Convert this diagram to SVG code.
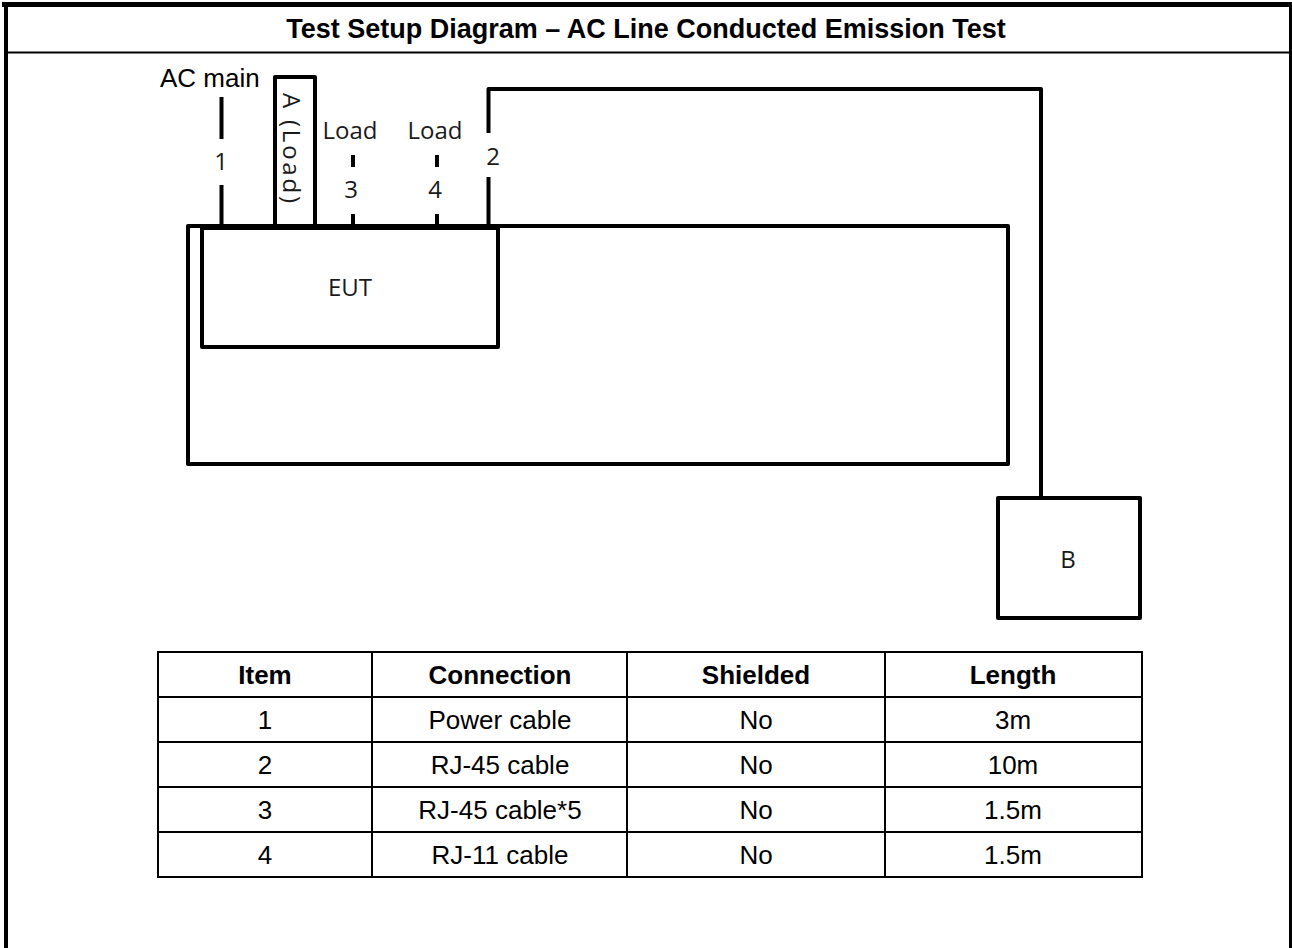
<svg xmlns="http://www.w3.org/2000/svg" width="1292" height="948" viewBox="0 0 1292 948">
<style>
.frame{fill:none;stroke:#000}
.box{fill:none;stroke:#000;stroke-width:4;stroke-linejoin:round}
.wire{fill:none;stroke:#000;stroke-width:4;stroke-linejoin:round}
.lbl{font-family:"Open Sans","DejaVu Sans",sans-serif;font-size:24px;fill:#1a1a1a}
.arial{font-family:"Liberation Sans",Arial,sans-serif;fill:#000}
.title{font-size:27px;font-weight:bold}
.th{font-size:26px;font-weight:bold}
.td{font-size:26px}
.grid{fill:none;stroke:#000;stroke-width:2}
</style>
<rect x="0" y="0" width="1292" height="948" fill="#fff"/>
<g id="frame">
<line class="frame" x1="2" y1="4.5" x2="1292" y2="4.5" stroke-width="5"/>
<line class="frame" x1="6" y1="2" x2="6" y2="948" stroke-width="4"/>
<line class="frame" x1="1290.5" y1="2" x2="1290.5" y2="948" stroke-width="3"/>
<line class="frame" x1="6" y1="52.5" x2="1292" y2="52.5" stroke-width="2"/>
<text class="arial title" x="646" y="38" text-anchor="middle">Test Setup Diagram – AC Line Conducted Emission Test</text>
</g>
<g id="table-surface">
<rect class="box" x="188" y="226" width="820" height="238"/>
</g>
<g id="eut">
<rect class="box" x="202" y="228" width="296" height="119"/>
<text class="lbl" x="350" y="296" text-anchor="middle">EUT</text>
</g>
<g id="load-a">
<rect class="box" x="275" y="77" width="40" height="149"/>
<text class="lbl" transform="translate(283,148) rotate(90)" text-anchor="middle" font-size="25" textLength="110" lengthAdjust="spacing">A (Load)</text>
</g>
<g id="b">
<rect class="box" x="998" y="498" width="142" height="120"/>
<text class="lbl" x="1068" y="568" text-anchor="middle">B</text>
</g>
<g id="connectors">
<line class="wire" x1="221.5" y1="97" x2="221.5" y2="139"/>
<line class="wire" x1="221.5" y1="185" x2="221.5" y2="226"/>
<line class="wire" x1="353" y1="155" x2="353" y2="167"/>
<line class="wire" x1="353" y1="214" x2="353" y2="226"/>
<line class="wire" x1="437" y1="155" x2="437" y2="167"/>
<line class="wire" x1="437" y1="214" x2="437" y2="226"/>
<polyline class="wire" points="488.5,133 488.5,89 1041,89 1041,498"/>
<line class="wire" x1="488.5" y1="177" x2="488.5" y2="226"/>
</g>
<g id="labels">
<text class="arial" x="160" y="87" font-size="26">AC main</text>
<text class="lbl" x="221" y="170" text-anchor="middle">1</text>
<text class="lbl" x="350" y="139" text-anchor="middle">Load</text>
<text class="lbl" x="351" y="198" text-anchor="middle">3</text>
<text class="lbl" x="435" y="139" text-anchor="middle">Load</text>
<text class="lbl" x="435" y="198" text-anchor="middle">4</text>
<text class="lbl" x="493" y="165" text-anchor="middle">2</text>
</g>
<g id="legend-table">
<rect class="grid" x="158" y="652" width="984" height="225"/>
<line class="grid" x1="158" y1="697" x2="1142" y2="697"/>
<line class="grid" x1="158" y1="742" x2="1142" y2="742"/>
<line class="grid" x1="158" y1="787" x2="1142" y2="787"/>
<line class="grid" x1="158" y1="832" x2="1142" y2="832"/>
<line class="grid" x1="372" y1="652" x2="372" y2="877"/>
<line class="grid" x1="627" y1="652" x2="627" y2="877"/>
<line class="grid" x1="885" y1="652" x2="885" y2="877"/>
<g class="arial th" text-anchor="middle">
<text x="265" y="684">Item</text>
<text x="500" y="684">Connection</text>
<text x="756" y="684">Shielded</text>
<text x="1013" y="684">Length</text>
</g>
<g class="arial td" text-anchor="middle">
<text x="265" y="729">1</text><text x="500" y="729">Power cable</text><text x="756" y="729">No</text><text x="1013" y="729">3m</text>
<text x="265" y="774">2</text><text x="500" y="774">RJ-45 cable</text><text x="756" y="774">No</text><text x="1013" y="774">10m</text>
<text x="265" y="819">3</text><text x="500" y="819">RJ-45 cable*5</text><text x="756" y="819">No</text><text x="1013" y="819">1.5m</text>
<text x="265" y="864">4</text><text x="500" y="864">RJ-11 cable</text><text x="756" y="864">No</text><text x="1013" y="864">1.5m</text>
</g>
</g>
</svg>
